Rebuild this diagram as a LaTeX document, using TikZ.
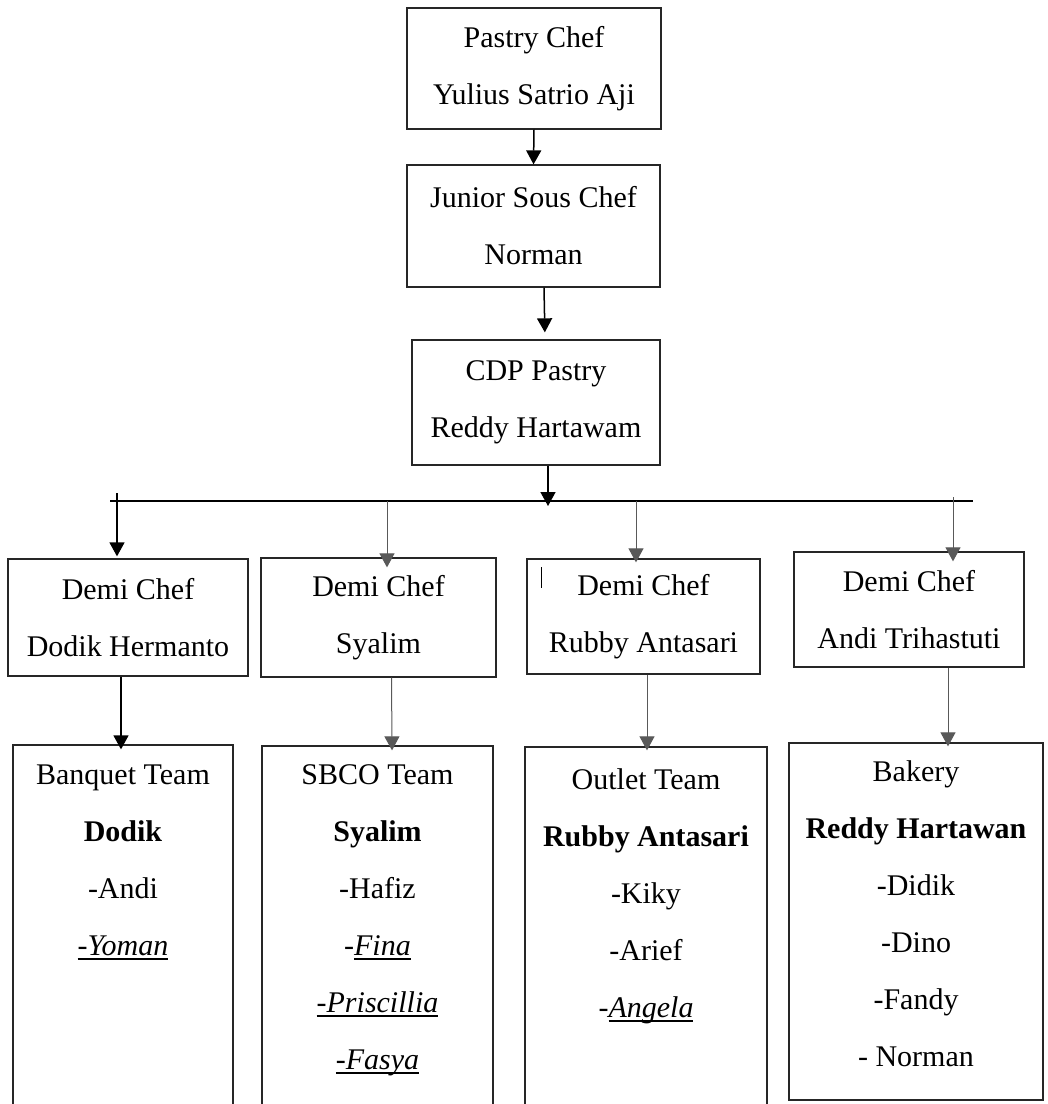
\documentclass[tikz,border=0pt]{standalone}
\usepackage{fontspec}
\setmainfont{Liberation Serif}
\usepackage{tikz}
\usetikzlibrary{shapes,arrows.meta}
\usetikzlibrary{calc}
\newcommand{\ulname}[1]{{\setbox0\hbox{#1}\rlap{\raisebox{-4.5pt}{\rule{\wd0}{1.6pt}}}\box0}}

\begin{document}
\begin{tikzpicture}[x=1pt,y=-1pt,
	box/.style={draw=black!85,line width=1.3pt,inner sep=0pt,align=center,font=\fontsize{30}{57}\selectfont},
	teamtxt/.style={inner sep=0pt,align=center,anchor=north,font=\fontsize{30}{57}\selectfont},
	blk/.style={->,line width=1.5pt,black},
	gry/.style={->,line width=1pt,black!65},
	>={Triangle[width=15pt,length=14pt]}]
	\clip (0,0) rectangle (1048,1104);
	\fill[white] (0,0) rectangle (1048,1104);

	\node[box,minimum width=254pt,minimum height=121pt] (pastry) at (534,68.5) {Pastry Chef\\Yulius Satrio Aji};
	\node[box,minimum width=253pt,minimum height=122pt] (junior) at (533.5,226) {Junior Sous Chef\\Norman};
	\node[box,minimum width=248pt,minimum height=125pt] (cdp) at (536,402.5) {CDP Pastry\\Reddy Hartawam};

	\node[box,minimum width=240pt,minimum height=117pt] (demiA) at (128,617.5) {Demi Chef\\Dodik Hermanto};
	\node[box,minimum width=235pt,minimum height=119pt] (demiB) at (378.5,617.5) {Demi Chef\\Syalim};
	\node[box,minimum width=233pt,minimum height=115pt] (demiC) at (643.5,616.5) {Demi Chef\\Rubby Antasari};
	\node[box,minimum width=230pt,minimum height=115pt] (demiD) at (909,609.5) {Demi Chef\\Andi Trihastuti};
	\draw[line width=1pt] (541,567) -- (541,588);

	\node[box,minimum width=220pt,minimum height=365pt] (teamA) at (123,927.5) {};
	\node[box,minimum width=231pt,minimum height=364pt] (teamB) at (377.5,928) {};
	\node[box,minimum width=242pt,minimum height=363pt] (teamC) at (646,928.5) {};
	\node[box,minimum width=254pt,minimum height=357pt] (teamD) at (916,921.5) {};

	\node[teamtxt] (txtA) at ($(teamA.north)+(0,20)$) {Banquet Team\\\textbf{Dodik}\\-Andi\\\ulname{\textit{-Yoman}}};
	\node[teamtxt] (txtB) at ($(teamB.north)+(0,19)$) {SBCO Team\\\textbf{Syalim}\\-Hafiz\\-\ulname{\textit{Fina}}\\\ulname{\textit{-Priscillia}}\\\ulname{\textit{-Fasya}}};
	\node[teamtxt] (txtC) at ($(teamC.north)+(0,22)$) {Outlet Team\\\textbf{Rubby Antasari}\\-Kiky\\-Arief\\-\ulname{\textit{Angela}}};
	\node[teamtxt] (txtD) at ($(teamD.north)+(0,18)$) {Bakery\\\textbf{Reddy Hartawan}\\-Didik\\-Dino\\-Fandy\\- Norman};

	\coordinate (busL) at (110,501);
	\coordinate (busT) at (538,501);
	\coordinate (busR) at (973,501);
	\coordinate (busM) at (548,506);
	\draw[line width=1.3pt] (busL) -- (busR);
	\draw[line width=2.6pt] (busT) -- (busR);

	\draw[blk] (pastry.south) -- (junior.north);
	\draw[blk,shorten >=7pt] ([xshift=10.5pt]junior.south) -- ([xshift=9pt]cdp.north);
	\draw[blk] (cdp.south -| busM) -- (busM);

	\coordinate (brA) at (117,493);
	\coordinate (brB) at (387,501);
	\coordinate (brC) at (636,501);
	\coordinate (brD) at (953,497);
	\draw[blk,shorten >=2pt] (brA) -- (brA |- demiA.north);
	\draw[gry,shorten >=-10pt] (brB) -- (brB |- demiB.north);
	\draw[gry,shorten >=-4pt] (brC) -- (brC |- demiC.north);
	\draw[gry,shorten >=-10pt] (brD) -- (brD |- demiD.north);

	\draw[blk,shorten >=-5pt] ([xshift=-7pt]demiA.south) -- ([xshift=-2pt]teamA.north);
	\draw[gry,shorten >=-5pt] ([xshift=13pt]demiB.south) -- ([xshift=14.5pt]teamB.north);
	\draw[gry,shorten >=-4pt] ([xshift=3.5pt]demiC.south) -- ([xshift=1pt]teamC.north);
	\draw[gry,shorten >=-4pt] ([xshift=39pt]demiD.south) -- ([xshift=32pt]teamD.north);
\end{tikzpicture}
\end{document}
